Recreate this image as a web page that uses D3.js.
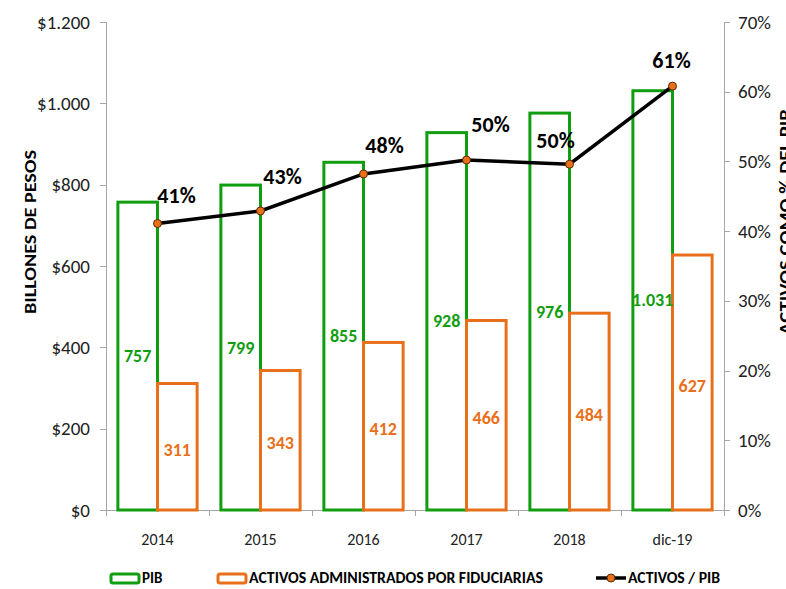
<!DOCTYPE html>
<html lang="es">
<head>
<meta charset="utf-8">
<title>PIB y activos fiduciarios</title>
<script src="https://cdn.jsdelivr.net/npm/d3@7/dist/d3.min.js"></script>
<style>
  body { margin: 0; background: #fff; }
  svg text { font-family: Carlito, Lato, sans-serif; }
  .axis path, .axis line { stroke: #a6a6a6; shape-rendering: crispEdges; }
</style>
</head>
<body>
<script>
// Data
var years = ["2014", "2015", "2016", "2017", "2018", "dic-19"];
var pib = [757, 799, 855, 928, 976, 1031];
var activos = [311, 343, 412, 466, 484, 627];
var ratio = [0.411, 0.429, 0.482, 0.502, 0.496, 0.608];
var ratioLabels = ["41%", "43%", "48%", "50%", "50%", "61%"];
var leftTicks = [0, 200, 400, 600, 800, 1000, 1200];
var rightTicks = [0, 0.1, 0.2, 0.3, 0.4, 0.5, 0.6, 0.7];

// manual placement of the % labels (like the excel original)
var labelDx = [19, 22, 21, 24, -14, -1];
var labelDy = [-28, -34, -28, -36, -24, -26];

var width = 786, height = 589;
var margin = {top: 22, right: 62, bottom: 79, left: 106};
var green = "#109e10", orange = "#e8701a";

var svg = d3.select("body").append("svg")
    .attr("width", width)
    .attr("height", height);

var x = d3.scaleBand()
    .domain(years)
    .range([margin.left, width - margin.right]);

var xInner = d3.scaleBand()
    .domain(["pib", "act"])
    .range([0, x.bandwidth()])
    .paddingOuter(0.3);

var yLeft = d3.scaleLinear()
    .domain([0, 1200])
    .range([height - margin.bottom, margin.top]);

var yRight = d3.scaleLinear()
    .domain([0, 0.7])
    .range([height - margin.bottom, margin.top]);

var fmtMoney = function(d) {
  return "$" + d3.format(",")(d).replace(/,/g, ".");
};

// axes
svg.append("g")
    .attr("class", "axis")
    .attr("transform", "translate(" + margin.left + ",0)")
    .call(d3.axisLeft(yLeft).tickValues(leftTicks).tickFormat(fmtMoney).tickSize(6).tickPadding(10))
    .selectAll("text")
    .attr("font-size", 19)
    .attr("fill", "#222");

svg.append("g")
    .attr("class", "axis")
    .attr("transform", "translate(" + (width - margin.right) + ",0)")
    .call(d3.axisRight(yRight).tickValues(rightTicks).tickFormat(d3.format(".0%")).tickSize(6).tickPadding(8))
    .selectAll("text")
    .attr("font-size", 19)
    .attr("fill", "#222");

var xAxis = svg.append("g")
    .attr("class", "axis")
    .attr("transform", "translate(0," + (height - margin.bottom) + ")")
    .call(d3.axisBottom(x).tickSize(0).tickPadding(24));
xAxis.selectAll("text")
    .attr("font-size", 16)
    .attr("fill", "#222");
// ticks between categories
xAxis.selectAll(".sep")
    .data(d3.range(years.length + 1))
    .enter().append("line")
    .attr("class", "sep")
    .attr("x1", function(i) { return margin.left + i * x.step(); })
    .attr("x2", function(i) { return margin.left + i * x.step(); })
    .attr("y1", 0)
    .attr("y2", 6);

// axis titles
svg.append("text")
    .attr("transform", "translate(36," + 232 + ") rotate(-90)")
    .attr("text-anchor", "middle")
    .attr("font-size", 15)
    .attr("font-weight", "bold")
    .attr("textLength", 164)
    .attr("lengthAdjust", "spacingAndGlyphs")
    .text("BILLONES DE PESOS");

svg.append("text")
    .attr("transform", "translate(792," + 222 + ") rotate(-90)")
    .attr("text-anchor", "middle")
    .attr("font-size", 17)
    .attr("font-weight", "bold")
    .attr("textLength", 226)
    .attr("lengthAdjust", "spacingAndGlyphs")
    .text("ACTIVOS COMO % DEL PIB");

// bars
var groups = svg.selectAll(".grp")
    .data(years)
    .enter().append("g")
    .attr("class", "grp")
    .attr("transform", function(d) { return "translate(" + x(d) + ",0)"; });

groups.append("rect")
    .attr("x", xInner("pib"))
    .attr("y", function(d, i) { return yLeft(pib[i]); })
    .attr("width", xInner.bandwidth())
    .attr("height", function(d, i) { return yLeft(0) - yLeft(pib[i]); })
    .attr("fill", "none")
    .attr("stroke", green)
    .attr("stroke-width", 3);

groups.append("rect")
    .attr("x", xInner("act"))
    .attr("y", function(d, i) { return yLeft(activos[i]); })
    .attr("width", xInner.bandwidth())
    .attr("height", function(d, i) { return yLeft(0) - yLeft(activos[i]); })
    .attr("fill", "none")
    .attr("stroke", orange)
    .attr("stroke-width", 3);

groups.append("text")
    .attr("x", xInner("pib") + xInner.bandwidth() / 2)
    .attr("y", function(d, i) { return (yLeft(pib[i]) + yLeft(0)) / 2; })
    .attr("text-anchor", "middle")
    .attr("dominant-baseline", "central")
    .attr("font-size", 18)
    .attr("font-weight", "bold")
    .attr("fill", green)
    .text(function(d, i) { return d3.format(",")(pib[i]).replace(/,/g, "."); });

groups.append("text")
    .attr("x", xInner("act") + xInner.bandwidth() / 2)
    .attr("y", function(d, i) { return (yLeft(activos[i]) + yLeft(0)) / 2 + 3; })
    .attr("text-anchor", "middle")
    .attr("dominant-baseline", "central")
    .attr("font-size", 18)
    .attr("font-weight", "bold")
    .attr("fill", orange)
    .text(function(d, i) { return activos[i]; });

// line
var line = d3.line()
    .x(function(d, i) { return x(years[i]) + x.bandwidth() / 2; })
    .y(function(d) { return yRight(d); });

svg.append("path")
    .datum(ratio)
    .attr("d", line)
    .attr("fill", "none")
    .attr("stroke", "#000")
    .attr("stroke-width", 3.5);

svg.selectAll(".dot")
    .data(ratio)
    .enter().append("circle")
    .attr("class", "dot")
    .attr("cx", function(d, i) { return x(years[i]) + x.bandwidth() / 2; })
    .attr("cy", function(d) { return yRight(d); })
    .attr("r", 4)
    .attr("fill", orange)
    .attr("stroke", "#5a2a00")
    .attr("stroke-width", 1);

svg.selectAll(".pct")
    .data(ratio)
    .enter().append("text")
    .attr("class", "pct")
    .attr("x", function(d, i) { return x(years[i]) + x.bandwidth() / 2 + labelDx[i]; })
    .attr("y", function(d, i) { return yRight(d) + labelDy[i]; })
    .attr("text-anchor", "middle")
    .attr("dominant-baseline", "central")
    .attr("font-size", 22)
    .attr("font-weight", "bold")
    .attr("fill", "#000")
    .text(function(d, i) { return ratioLabels[i]; });

// legend
var legY = 578;
var leg = svg.append("g").attr("font-size", 15).attr("font-weight", "bold");

leg.append("rect").attr("x", 111).attr("y", legY - 4).attr("width", 28).attr("height", 9)
    .attr("rx", 2).attr("fill", "none").attr("stroke", green).attr("stroke-width", 3);
leg.append("text").attr("x", 142).attr("y", legY).attr("dominant-baseline", "central").text("PIB");

leg.append("rect").attr("x", 218).attr("y", legY - 4).attr("width", 28).attr("height", 9)
    .attr("rx", 2).attr("fill", "none").attr("stroke", orange).attr("stroke-width", 3);
leg.append("text").attr("x", 249).attr("y", legY).attr("dominant-baseline", "central")
    .attr("textLength", 294).attr("lengthAdjust", "spacingAndGlyphs")
    .text("ACTIVOS ADMINISTRADOS POR FIDUCIARIAS");

leg.append("line").attr("x1", 596).attr("x2", 626).attr("y1", legY).attr("y2", legY)
    .attr("stroke", "#000").attr("stroke-width", 3.5);
leg.append("circle").attr("cx", 611).attr("cy", legY).attr("r", 4)
    .attr("fill", orange).attr("stroke", "#5a2a00").attr("stroke-width", 1);
leg.append("text").attr("x", 628).attr("y", legY).attr("dominant-baseline", "central")
    .attr("textLength", 92).attr("lengthAdjust", "spacingAndGlyphs")
    .text("ACTIVOS / PIB");
</script>
</body>
</html>
